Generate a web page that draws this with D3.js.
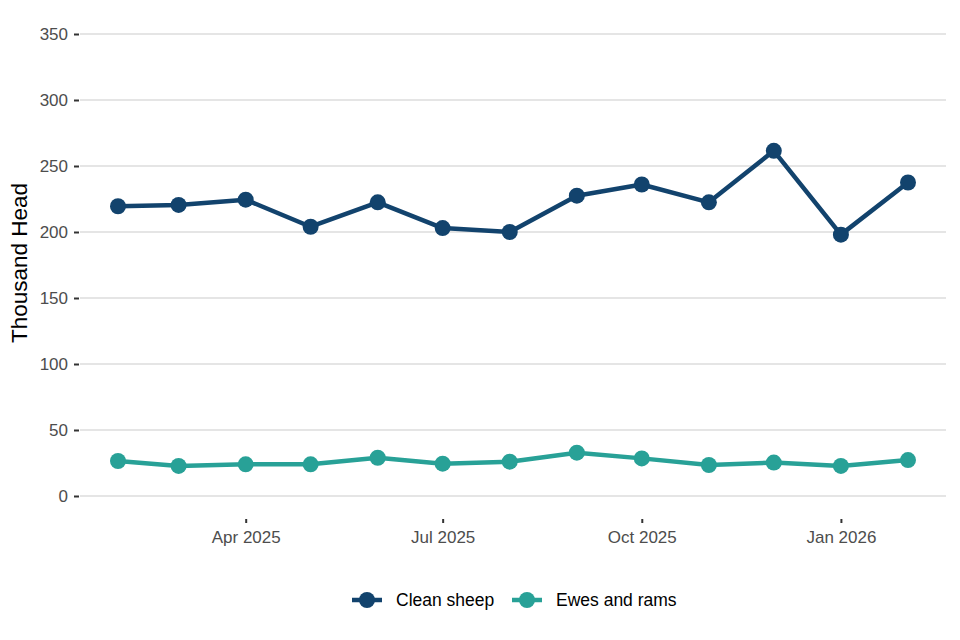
<!DOCTYPE html>
<html>
<head>
<meta charset="utf-8">
<script src="https://cdn.jsdelivr.net/npm/d3@7"></script>
<style>
  body { margin: 0; background: #fff; }
  text { font-family: "Liberation Sans", Arial, sans-serif; }
</style>
</head>
<body>
<div id="chart"></div>
<script>
// Data
var months = ["2025-02", "2025-03", "2025-04", "2025-05", "2025-06", "2025-07", "2025-08",
              "2025-09", "2025-10", "2025-11", "2025-12", "2026-01", "2026-02"];
var cleanSheep = [219.5, 220.5, 224.5, 204, 222.5, 203, 200, 227.5, 236, 222.5, 261.5, 198, 237.5];
var ewesRams = [26.5, 22.8, 24, 24, 29, 24.5, 26, 32.8, 28.5, 23.5, 25.3, 22.8, 27.2];
var yTicks = [0, 50, 100, 150, 200, 250, 300, 350];
var xTicks = ["2025-04", "2025-07", "2025-10", "2026-01"];
var seriesNames = ["Clean sheep", "Ewes and rams"];
var seriesColors = ["#12436D", "#28A197"];

var svgWidth = 960;
var svgHeight = 640;
var parseMonth = d3.timeParse("%Y-%m");

var svg = d3.select("#chart")
  .append("svg")
  .attr("width", svgWidth)
  .attr("height", svgHeight);

// Scales
var xScale = d3.scaleTime()
  .domain([parseMonth(months[0]), parseMonth(months[months.length - 1])])
  .range([118, 908]);

var yScale = d3.scaleLinear()
  .domain([0, 350])
  .range([496, 34]);

var plotLeft = 80, plotRight = 946;

// Gridlines
svg.append("g")
  .selectAll("line")
  .data(yTicks)
  .enter()
  .append("line")
  .attr("x1", plotLeft)
  .attr("x2", plotRight)
  .attr("y1", d => yScale(d))
  .attr("y2", d => yScale(d))
  .attr("stroke", "#e5e5e5")
  .attr("stroke-width", 2);

// Y axis
var leftAxis = d3.axisLeft(yScale)
  .tickValues(yTicks)
  .tickSize(5)
  .tickPadding(6);

var yAxisG = svg.append("g")
  .attr("transform", `translate(${plotLeft - 1}, 0)`)
  .call(leftAxis);
yAxisG.select(".domain").remove();
yAxisG.selectAll(".tick line").attr("stroke", "#333").attr("stroke-width", 2);
yAxisG.selectAll(".tick text")
  .attr("fill", "#4d4d4d")
  .attr("font-size", "17px")
  .style("font-family", "Liberation Sans, Arial, sans-serif");

// X axis
var bottomAxis = d3.axisBottom(xScale)
  .tickValues(xTicks.map(parseMonth))
  .tickFormat(d3.timeFormat("%b %Y"))
  .tickSize(4)
  .tickPadding(8);

var xAxisG = svg.append("g")
  .attr("transform", `translate(0, 519)`)
  .call(bottomAxis);
xAxisG.select(".domain").remove();
xAxisG.selectAll(".tick line").attr("stroke", "#333").attr("stroke-width", 2);
xAxisG.selectAll(".tick text")
  .attr("fill", "#4d4d4d")
  .attr("font-size", "17px")
  .style("font-family", "Liberation Sans, Arial, sans-serif");

// Axis title
svg.append("text")
  .attr("transform", `translate(27, 263) rotate(-90)`)
  .attr("text-anchor", "middle")
  .attr("font-size", "22.5px")
  .attr("fill", "#000")
  .text("Thousand Head");

// Lines and points
var series = [cleanSheep, ewesRams];
var line = d3.line()
  .x((d, i) => xScale(parseMonth(months[i])))
  .y(d => yScale(d));

series.forEach(function(values, s) {
  svg.append("path")
    .datum(values)
    .attr("d", line)
    .attr("fill", "none")
    .attr("stroke", seriesColors[s])
    .attr("stroke-width", 4.5)
    .attr("stroke-linejoin", "round");

  svg.append("g")
    .selectAll("circle")
    .data(values)
    .enter()
    .append("circle")
    .attr("cx", (d, i) => xScale(parseMonth(months[i])))
    .attr("cy", d => yScale(d))
    .attr("r", 8)
    .attr("fill", seriesColors[s]);
});

// Legend
var legendX = [352, 512];
var legend = svg.append("g");
seriesNames.forEach(function(name, s) {
  var g = legend.append("g")
    .attr("transform", `translate(${legendX[s]}, 600)`);
  g.append("line")
    .attr("x1", 0).attr("x2", 30)
    .attr("y1", 0).attr("y2", 0)
    .attr("stroke", seriesColors[s])
    .attr("stroke-width", 4.5);
  g.append("circle")
    .attr("cx", 15).attr("cy", 0).attr("r", 8)
    .attr("fill", seriesColors[s]);
  g.append("text")
    .attr("x", 44)
    .attr("y", 0)
    .attr("dy", "0.35em")
    .attr("font-size", "17.5px")
    .attr("fill", "#000")
    .text(name);
});
</script>
</body>
</html>
